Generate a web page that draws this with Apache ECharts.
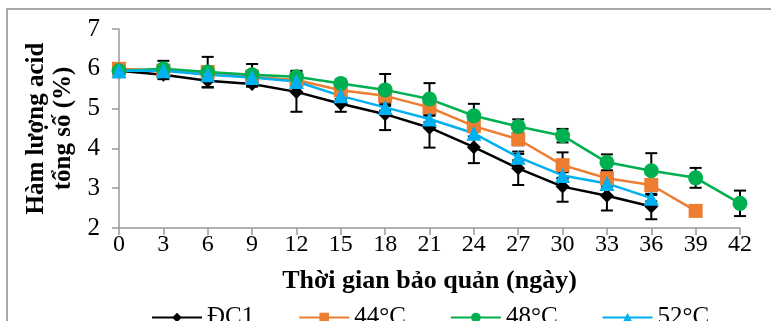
<!DOCTYPE html>
<html>
<head>
<meta charset="utf-8">
<script src="https://cdn.jsdelivr.net/npm/echarts@6/dist/echarts.min.js"></script>
<style>
  html, body { margin: 0; padding: 0; background: #fff; }
  #chart { width: 771px; height: 321px; }
</style>
</head>
<body>
<div id="chart"></div>
<script>
// thời gian bảo quản (ngày)
const days = [0, 3, 6, 9, 12, 15, 18, 21, 24, 27, 30, 33, 36, 39, 42]

// hàm lượng acid tổng số (%)
const dc1 = [5.95, 5.85, 5.7, 5.62, 5.42, 5.12, 4.86, 4.52, 4.03, 3.5, 3.04, 2.81, 2.54]
const t44 = [6.0, 5.95, 5.92, 5.8, 5.72, 5.46, 5.32, 5.03, 4.56, 4.23, 3.58, 3.25, 3.08, 2.43]
const t48 = [5.95, 6.0, 5.92, 5.85, 5.8, 5.63, 5.47, 5.24, 4.82, 4.55, 4.32, 3.65, 3.44, 3.26, 2.62]
const t52 = [5.95, 5.95, 5.85, 5.78, 5.68, 5.32, 5.03, 4.74, 4.38, 3.78, 3.32, 3.12, 2.75]

// sai số
const errDc1 = [0.16, 0.11, 0.17, 0.07, 0.5, 0.2, 0.4, 0.5, 0.4, 0.42, 0.38, 0.37, 0.32]
const err44 = [0.1, 0.1, 0.38, 0.1, 0.1, 0.1, 0.15, 0.15, 0.15, 0.15, 0.32, 0.15, 0.15, 0.04]
const err48 = [0.15, 0.2, 0.1, 0.27, 0.15, 0.1, 0.4, 0.4, 0.3, 0.18, 0.17, 0.2, 0.44, 0.25, 0.32]
const err52 = [0.08, 0.08, 0.08, 0.08, 0.08, 0.08, 0.08, 0.08, 0.08, 0.08, 0.08, 0.08, 0.08]

const font = "'Liberation Serif', 'Times New Roman', serif"

function pts(vals) {
  return vals.map((v, i) => [days[i], v])
}

function errData(vals, errs) {
  return vals.map((v, i) => [days[i], v - errs[i], v + errs[i]])
}

function errSeries(vals, errs) {
  return {
    type: 'custom',
    z: 1,
    silent: true,
    renderItem: function (params, api) {
      const lo = api.coord([api.value(0), api.value(1)])
      const hi = api.coord([api.value(0), api.value(2)])
      const w = 6
      const st = { stroke: '#000', lineWidth: 2 }
      return {
        type: 'group',
        children: [
          { type: 'line', shape: { x1: lo[0], y1: lo[1], x2: hi[0], y2: hi[1] }, style: st },
          { type: 'line', shape: { x1: lo[0] - w, y1: lo[1], x2: lo[0] + w, y2: lo[1] }, style: st },
          { type: 'line', shape: { x1: hi[0] - w, y1: hi[1], x2: hi[0] + w, y2: hi[1] }, style: st }
        ]
      }
    },
    data: errData(vals, errs)
  }
}

function lineSeries(name, vals, color, symbol, size) {
  return {
    name: name,
    type: 'line',
    z: 2,
    data: pts(vals),
    symbol: symbol,
    symbolSize: size,
    showAllSymbol: true,
    lineStyle: { color: color, width: 2.5 },
    itemStyle: { color: color },
    emphasis: { disabled: true }
  }
}

const chart = echarts.init(document.getElementById('chart'))

const option = {
  animation: false,
  graphic: [{
    type: 'rect',
    shape: { x: 7, y: 9, width: 900, height: 500 },
    style: { fill: 'none', stroke: '#8c8c8c', lineWidth: 1.5 },
    silent: true
  }],
  grid: { left: 119, right: 31, top: 29, bottom: 93 },
  legend: {
    left: 146,
    top: 300,
    itemWidth: 50,
    itemHeight: 12,
    itemGap: 44,
    textStyle: { fontFamily: font, fontSize: 25, color: '#000' },
    data: ['ĐC1', '44°C', '48°C', '52°C']
  },
  xAxis: {
    type: 'value',
    min: 0,
    max: 42,
    interval: 3,
    name: 'Thời gian bảo quản (ngày)',
    nameLocation: 'middle',
    nameGap: 40,
    nameTextStyle: { fontFamily: font, fontSize: 26, fontWeight: 'bold', color: '#000' },
    axisLine: { lineStyle: { color: '#999', width: 1.5 } },
    axisTick: { length: 7, lineStyle: { color: '#999', width: 1.5 } },
    axisLabel: { fontFamily: font, fontSize: 24, color: '#000', margin: 5 },
    splitLine: { show: false }
  },
  yAxis: {
    type: 'value',
    min: 2,
    max: 7,
    interval: 1,
    name: 'Hàm lượng acid\ntổng số (%)',
    nameLocation: 'middle',
    nameRotate: 90,
    nameGap: 42,
    nameTextStyle: { fontFamily: font, fontSize: 25, fontWeight: 'bold', color: '#000', lineHeight: 27 },
    axisLine: { show: true, lineStyle: { color: '#999', width: 1.5 } },
    axisTick: { show: true, length: 7, lineStyle: { color: '#999', width: 1.5 } },
    axisLabel: { fontFamily: font, fontSize: 25, color: '#000', margin: 19 },
    splitLine: { show: false }
  },
  series: [
    errSeries(dc1, errDc1),
    errSeries(t44, err44),
    errSeries(t48, err48),
    errSeries(t52, err52),
    lineSeries('ĐC1', dc1, '#000000', 'diamond', 14),
    lineSeries('44°C', t44, '#ED7D31', 'rect', 14),
    lineSeries('48°C', t48, '#00B050', 'circle', 15),
    lineSeries('52°C', t52, '#00B0F0', 'triangle', 15)
  ]
}

chart.setOption(option)
</script>
</body>
</html>
